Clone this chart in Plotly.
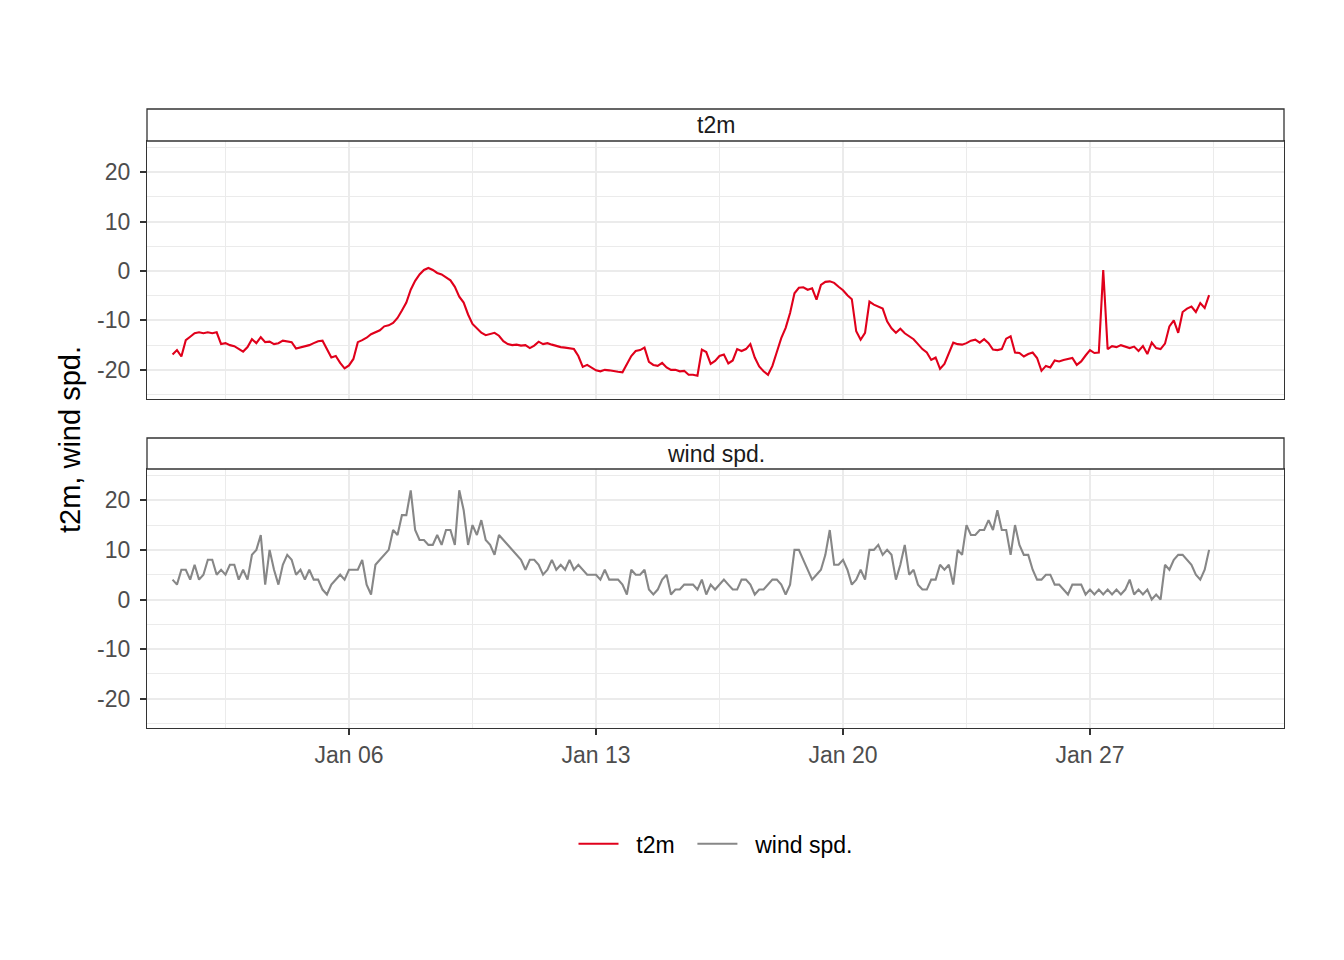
import pandas as pd
import plotly.graph_objects as go
from plotly.subplots import make_subplots

# 3-hourly series starting Jan 01 00:00
start_time = '2021-01-01 00:00'
step = '3h'

t2m = [-16.9, -16.0, -17.3, -14.0, -13.3, -12.6, -12.4, -12.6, -12.4, -12.6,
       -12.4, -14.8, -14.6, -15.0, -15.2, -15.8, -16.3, -15.4, -13.8, -14.6,
       -13.4, -14.4, -14.3, -14.8, -14.6, -14.1, -14.3, -14.4, -15.7, -15.5,
       -15.3, -15.0, -14.6, -14.2, -14.1, -15.8, -17.5, -17.2, -18.6, -19.7,
       -19.1, -17.8, -14.4, -14.0, -13.5, -12.8, -12.4, -12.0, -11.2, -11.0,
       -10.5, -9.5, -8.0, -6.4, -3.8, -2.0, -0.7, 0.2, 0.6, 0.2,
       -0.4, -0.7, -1.3, -1.9, -3.2, -5.2, -6.4, -8.8, -10.7, -11.5,
       -12.5, -13.0, -12.7, -12.5, -13.1, -14.2, -14.8, -15.0, -14.9, -15.1,
       -15.0, -15.6, -15.1, -14.3, -14.8, -14.6, -14.9, -15.2, -15.4, -15.5,
       -15.6, -15.8, -17.2, -19.4, -19.0, -19.5, -20.1, -20.3, -20.0, -20.1,
       -20.3, -20.4, -20.5, -18.7, -17.2, -16.2, -16.0, -15.5, -18.4, -19.0,
       -19.2, -18.6, -19.5, -20.0, -20.0, -20.3, -20.2, -21.0, -21.0, -21.2,
       -15.9, -16.4, -18.8, -18.2, -17.2, -16.9, -18.7, -18.1, -15.8, -16.2,
       -15.8, -14.8, -17.5, -19.3, -20.3, -21.0, -19.2, -16.4, -13.6, -11.5,
       -8.5, -4.5, -3.4, -3.3, -3.8, -3.5, -5.8, -2.8, -2.2, -2.1,
       -2.4, -3.2, -3.9, -4.9, -5.7, -12.2, -13.9, -12.5, -6.2, -6.8,
       -7.2, -7.6, -10.2, -11.6, -12.5, -11.7, -12.6, -13.2, -13.8, -14.8,
       -15.8, -16.5, -18.0, -17.5, -19.8, -18.8, -16.5, -14.5, -14.8, -14.9,
       -14.6, -14.1, -13.9, -14.5, -13.8, -14.6, -15.9, -16.0, -15.8, -13.7,
       -13.2, -16.5, -16.6, -17.3, -16.8, -16.5, -17.6, -20.2, -19.2, -19.5,
       -18.1, -18.3, -18.0, -17.8, -17.6, -19.0, -18.3, -17.1, -16.0, -16.6,
       -16.5, 0.2, -15.8, -15.2, -15.4, -15.0, -15.3, -15.6, -15.3, -16.2,
       -15.2, -16.8, -14.5, -15.6, -15.8, -14.7, -11.2, -10.0, -12.5, -8.3,
       -7.6, -7.2, -8.3, -6.5, -7.5, -4.9]

wind_spd = [4, 3, 6, 6, 4, 7, 4, 5, 8, 8,
            5, 6, 5, 7, 7, 4, 6, 4, 9, 10,
            13, 3, 10, 6, 3, 7, 9, 8, 5, 6,
            4, 6, 4, 4, 2, 1, 3, 4, 5, 4,
            6, 6, 6, 8, 3, 1, 7, 8, 9, 10,
            14, 13, 17, 17, 22, 14, 12, 12, 11, 11,
            13, 11, 14, 14, 11, 22, 18, 11, 15, 13,
            16, 12, 11, 9, 13, 12, 11, 10, 9, 8,
            6, 8, 8, 7, 5, 6, 8, 6, 7, 6,
            8, 6, 7, 6, 5, 5, 5, 4, 6, 4,
            4, 4, 3, 1, 6, 5, 5, 6, 2, 1,
            2, 4, 5, 1, 2, 2, 3, 3, 3, 2,
            4, 1, 3, 2, 3, 4, 3, 2, 2, 4,
            4, 3, 1, 2, 2, 3, 4, 4, 3, 1,
            3, 10, 10, 8, 6, 4, 5, 6, 9, 14,
            7, 7, 8, 6, 3, 4, 6, 4, 10, 10,
            11, 9, 10, 9, 4, 7, 11, 5, 6, 3,
            2, 2, 4, 4, 7, 6, 7, 3, 10, 9,
            15, 13, 13, 14, 14, 16, 14, 18, 14, 14,
            9, 15, 11, 9, 9, 6, 4, 4, 5, 5,
            3, 3, 2, 1, 3, 3, 3, 1, 2, 1,
            2, 1, 2, 1, 2, 1, 2, 4, 1, 2,
            1, 2, 0, 1, 0, 7, 6, 8, 9, 9,
            8, 7, 5, 4, 6, 10]

series_names = ['t2m', 'wind spd.']
series_colors = ['#E0001B', '#878787']
tick_vals = [-20, -10, 0, 10, 20]
tick_text = ['-20', '-10', '0', '10', '20']

times = pd.date_range(start_time, periods=len(t2m), freq=step)

FONT = 'Liberation Sans'
GRID = '#EBEBEB'
BORDER = '#333333'
PAD = '\u00a0\u00a0'  # gap between legend key and label, and between entries
legend_labels = [PAD + series_names[0] + PAD, PAD + series_names[1]]

fig = make_subplots(rows=2, cols=1, shared_xaxes=True)
for i, vals in enumerate([t2m, wind_spd]):
    fig.add_trace(go.Scatter(x=times,
                             y=vals,
                             mode='lines',
                             name=legend_labels[i],
                             line=dict(color=series_colors[i], width=2.1)), row=i + 1, col=1)

day_ms = 86400000
x_common = dict(type='date',
                range=['2020-12-31 06:37', '2021-02-01 11:57'],
                tick0='2021-01-06',
                dtick=7 * day_ms,
                tickformat='%b %d',
                showgrid=True, gridcolor=GRID, gridwidth=2.2,
                minor=dict(tick0='2021-01-02 12:00', dtick=3.5 * day_ms,
                           showgrid=True, gridcolor=GRID, gridwidth=1.1),
                showline=True, mirror=True, linecolor=BORDER, linewidth=1.3,
                zeroline=False,
                tickfont=dict(family=FONT, size=23, color='#4D4D4D'))
y_common = dict(range=[-25.9, 26.3],
                tickvals=tick_vals,
                ticktext=tick_text,
                showgrid=True, gridcolor=GRID, gridwidth=2.2,
                minor=dict(tick0=0, dtick=5, showgrid=True, gridcolor=GRID, gridwidth=1.1),
                showline=True, mirror=True, linecolor=BORDER, linewidth=1.3,
                zeroline=False,
                ticks='outside', ticklen=6, tickwidth=1.5, tickcolor=BORDER,
                ticklabelstandoff=5,
                tickfont=dict(family=FONT, size=23, color='#4D4D4D'))

fig.update_layout(xaxis=dict(x_common, domain=[0, 1], showticklabels=False, ticks=''),
                  xaxis2=dict(x_common, domain=[0, 1], ticks='outside', ticklen=6,
                              tickwidth=1.5, tickcolor=BORDER),
                  yaxis=dict(y_common, domain=[0.5315, 0.9483]),
                  yaxis2=dict(y_common, domain=[0, 0.4184]))

# facet strips
strips = [(series_names[0], 0.9483, 1.0), (series_names[1], 0.4184, 0.4685)]
for label, y0, y1 in strips:
    fig.add_shape(type='rect', xref='paper', yref='paper', x0=0, x1=1, y0=y0, y1=y1,
                  fillcolor='white', line=dict(color=BORDER, width=1.3))
    fig.add_annotation(text=label, xref='paper', yref='paper', x=0.5, y=(y0 + y1) / 2,
                       showarrow=False, xanchor='center', yanchor='middle',
                       font=dict(family=FONT, size=23, color='#1A1A1A'))

fig.add_annotation(text='t2m, wind spd.', xref='paper', yref='paper', x=-0.0677, y=0.4653,
                   textangle=-90, showarrow=False, xanchor='center', yanchor='middle',
                   font=dict(family=FONT, size=29, color='black'))

# page body adds 8px offset, so margins are shifted left/up by 8
fig.update_layout(width=1344, height=960,
                  margin=dict(l=139, r=68, t=101, b=240, autoexpand=False),
                  plot_bgcolor='white', paper_bgcolor='white',
                  showlegend=True,
                  legend=dict(orientation='h', x=0.5, xanchor='center', y=-0.187, yanchor='middle',
                              font=dict(family=FONT, size=23, color='black'),
                              itemwidth=40))

fig.write_html('out.html')
